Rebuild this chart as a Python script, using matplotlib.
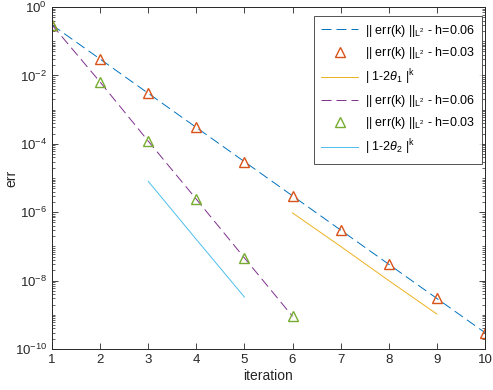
import matplotlib
matplotlib.use("Agg")
import matplotlib.pyplot as plt
import numpy as np
from matplotlib.ticker import LogLocator, NullFormatter, FixedLocator

plt.rcParams['font.family'] = ['Liberation Sans', 'DejaVu Sans']
plt.rcParams['mathtext.fontset'] = 'custom'
plt.rcParams['mathtext.rm'] = 'Liberation Sans'
plt.rcParams['mathtext.it'] = 'Liberation Sans:italic'

# data
iters1 = [1, 2, 3, 4, 5, 6, 7, 8, 9, 10]
err1 = [0.3, 3.0e-2, 3.0e-3, 3.0e-4, 3.0e-5, 3.0e-6, 3.0e-7, 3.0e-8, 3.0e-9, 3.0e-10]
iters2 = [1, 2, 3, 4, 5, 6]
err2 = [0.3, 6.4e-3, 1.2e-4, 2.4e-6, 4.6e-8, 9.0e-10]
rate1_k = [6, 7, 8, 9]
rate1 = [9.5e-7, 1.0e-7, 1.0e-8, 1.05e-9]
rate2_k = [3, 4, 5]
rate2 = [8.0e-6, 1.6e-7, 3.3e-9]

labels = [r'|| err(k) ||$_{\mathregular{L}^{\mathregular{2}}}$ - h=0.06',
          r'|| err(k) ||$_{\mathregular{L}^{\mathregular{2}}}$ - h=0.03',
          r'| 1-2$\theta_{\mathregular{1}}$ |$^{\mathregular{k}}$',
          r'|| err(k) ||$_{\mathregular{L}^{\mathregular{2}}}$ - h=0.06',
          r'|| err(k) ||$_{\mathregular{L}^{\mathregular{2}}}$ - h=0.03',
          r'| 1-2$\theta_{\mathregular{2}}$ |$^{\mathregular{k}}$']

c = ['#0072BD', '#D95319', '#EDB120', '#7E2F8E', '#77AC30', '#4DBEEE']

fig = plt.figure(figsize=(4.93, 3.90), dpi=100)
ax = fig.add_axes([52/493, 1-349/390, (485-52)/493, (349-7)/390])

lw = 0.7
dash = (10.3, 5.1)
l1, = ax.semilogy(iters1, err1, color=c[0], lw=lw, dashes=dash, label=labels[0])
l2, = ax.semilogy(iters1, err1, ls='none', marker='^', ms=7, mfc='none', mec=c[1], mew=1.0, label=labels[1])
l3, = ax.semilogy(rate1_k, rate1, color=c[2], lw=lw, label=labels[2])
l4, = ax.semilogy(iters2, err2, color=c[3], lw=lw, dashes=dash, label=labels[3])
l5, = ax.semilogy(iters2, err2, ls='none', marker='^', ms=7, mfc='none', mec=c[4], mew=1.0, label=labels[4])
l6, = ax.semilogy(rate2_k, rate2, color=c[5], lw=lw, label=labels[5])

ax.set_xlim(1, 10)
ax.set_ylim(1e-10, 1)
ax.set_xticks(range(1, 11))
ax.yaxis.set_major_locator(FixedLocator([10.0**e for e in range(-10, 1, 2)]))
ax.yaxis.set_minor_locator(LogLocator(base=10, subs=np.arange(1, 10), numticks=30))
ax.yaxis.set_minor_formatter(NullFormatter())
ax.tick_params(which='both', direction='in', top=True, right=True, labelsize=9.5, colors='#262626')
ax.tick_params(which='major', length=4, width=0.6)
ax.tick_params(which='minor', length=2, width=0.5)
for s in ax.spines.values():
    s.set_color('#262626')
    s.set_linewidth(0.7)
ax.set_xlabel('iteration', fontsize=10, color='#262626', labelpad=2)
ax.set_ylabel('err', fontsize=10, color='#262626')
ax.yaxis.set_label_coords(-0.078, 0.5)

leg = ax.legend(loc='upper right', fontsize=9, frameon=True, fancybox=False,
                edgecolor='#262626', handlelength=2.95, labelspacing=0.5,
                borderpad=0.55, handletextpad=0.56, borderaxespad=0,
                bbox_to_anchor=(0.993, 0.974))
leg.get_frame().set_linewidth(0.7)

fig.savefig('out.png', dpi=100)
